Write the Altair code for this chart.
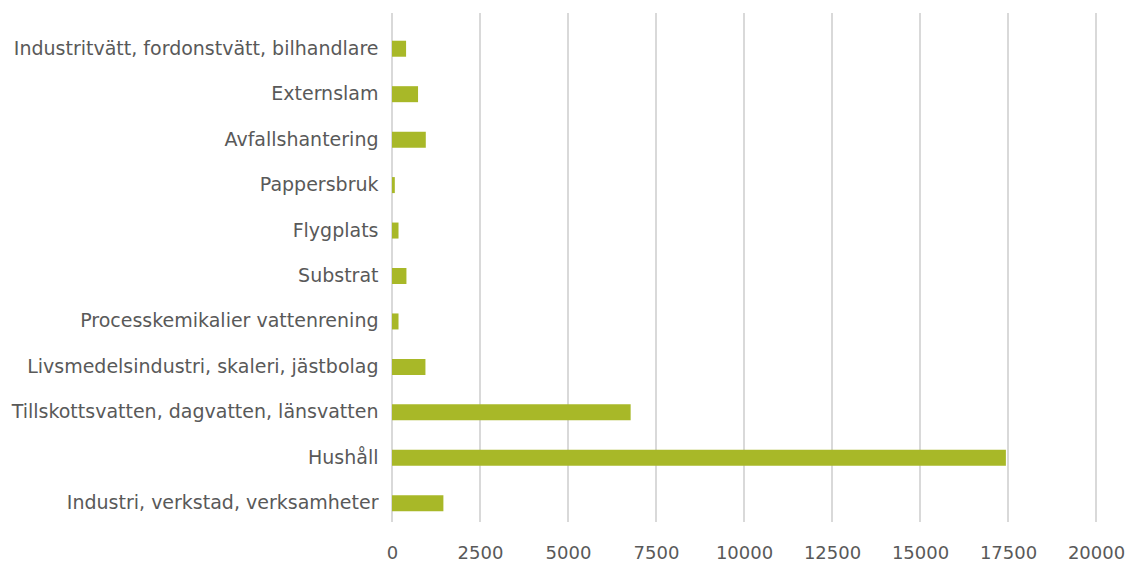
import altair as alt
import pandas as pd

categories = [
    "Industritvätt, fordonstvätt, bilhandlare",
    "Externslam",
    "Avfallshantering",
    "Pappersbruk",
    "Flygplats",
    "Substrat",
    "Processkemikalier vattenrening",
    "Livsmedelsindustri, skaleri, jästbolag",
    "Tillskottsvatten, dagvatten, länsvatten",
    "Hushåll",
    "Industri, verkstad, verksamheter",
]
values = [400, 740, 960, 80, 185, 410, 185, 950, 6780, 17440, 1460]
tick_values = [0, 2500, 5000, 7500, 10000, 12500, 15000, 17500, 20000]

df = pd.DataFrame({"cat": categories, "val": values})
ticks = pd.DataFrame({"t": tick_values})

FONT = "DejaVu Sans"
GRAY = "#595959"

xscale = alt.Scale(domain=[0, 20000], nice=False, zero=True)
xaxis = alt.Axis(values=tick_values, title=None, grid=False, ticks=False,
                 domain=False, labelPadding=18, labelFontSize=18,
                 labelFlush=False, labelOverlap=False, labelBound=False,
                 labelFont=FONT, labelColor=GRAY, format="d")

grid = alt.Chart(ticks).mark_rule(color="#d9d9d9", strokeWidth=2).encode(
    x=alt.X("t:Q", scale=xscale, axis=xaxis),
    y=alt.value(-13),
    y2=alt.value(496),
)

bars = alt.Chart(df).mark_bar(color="#A8B828", size=16).encode(
    x=alt.X("val:Q", scale=xscale, axis=xaxis),
    y=alt.Y("cat:N", sort=categories, scale=alt.Scale(paddingInner=0.65, paddingOuter=0.325),
            axis=alt.Axis(title=None, ticks=False, domain=False, labelPadding=14,
                          labelFontSize=19, labelFont=FONT, labelColor=GRAY,
                          labelLimit=500)),
)

chart = alt.layer(grid, bars).properties(
    width=704, height=500,
    background="white",
    autosize=alt.AutoSizeParams(type="none"),
    padding={"left": 392, "top": 26, "right": 32, "bottom": 36},
).configure_view(stroke=None)

chart.save("out.html", embed_options={"renderer": "svg", "actions": False})
